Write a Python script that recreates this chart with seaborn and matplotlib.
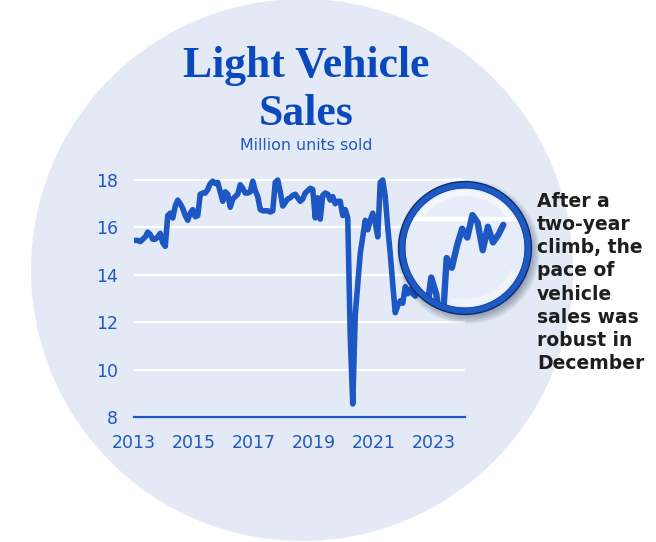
import matplotlib
matplotlib.use("Agg")
import matplotlib.pyplot as plt
import seaborn as sns
import numpy as np
import pandas as pd
from matplotlib.patches import Circle, Wedge

# ---------------- data (million units, SAAR, monthly) ----------------
years = list(range(2013, 2024))
sales_2013 = [15.45, 15.45, 15.4, 15.5, 15.6, 15.8, 15.7, 15.5, 15.5, 15.6, 15.75, 15.35]
sales_2014 = [15.2, 16.5, 16.6, 16.4, 16.9, 17.15, 17.0, 16.8, 16.5, 16.3, 16.6, 16.75]
sales_2015 = [16.45, 16.5, 17.4, 17.45, 17.45, 17.6, 17.85, 17.95, 17.85, 17.9, 17.5, 17.1]
sales_2016 = [17.5, 17.4, 16.85, 17.2, 17.3, 17.4, 17.8, 17.65, 17.45, 17.45, 17.5, 17.95]
sales_2017 = [17.55, 17.3, 16.75, 16.7, 16.7, 16.7, 16.65, 16.7, 17.9, 18.0, 17.5, 16.9]
sales_2018 = [17.05, 17.2, 17.25, 17.35, 17.4, 17.25, 17.1, 17.2, 17.45, 17.55, 17.65, 17.6]
sales_2019 = [16.4, 17.25, 16.35, 17.35, 17.45, 17.4, 17.15, 17.3, 17.0, 17.1, 17.1, 16.5]
sales_2020 = [16.75, 16.4, 11.4, 8.55, 12.3, 13.6, 14.9, 15.6, 16.3, 15.9, 16.3, 16.6]
sales_2021 = [16.2, 15.6, 17.9, 18.0, 17.3, 16.0, 14.9, 13.6, 12.4, 12.7, 12.9, 12.8]
sales_2022 = [13.5, 13.2, 13.4, 13.2, 13.1, 13.4, 13.5, 13.6, 14.0, 14.8, 14.45, 13.5]
sales_2023 = [15.2, 15.0, 15.45, 15.8, 15.62, 16.08, 15.93, 15.36, 15.84, 15.52, 15.67, 15.88]
monthly = [sales_2013, sales_2014, sales_2015, sales_2016, sales_2017, sales_2018,
           sales_2019, sales_2020, sales_2021, sales_2022, sales_2023]

y_ticks = [8, 10, 12, 14, 16, 18]
x_ticks = [2013, 2015, 2017, 2019, 2021, 2023]
title_lines = ["Light Vehicle", "Sales"]
subtitle = "Million units sold"
note = "After a\ntwo-year\nclimb, the\npace of\nvehicle\nsales was\nrobust in\nDecember"

rows = []
for yr, vals in zip(years, monthly):
    for m, v in enumerate(vals):
        rows.append({"t": yr + (m + 0.5) / 12.0, "sales": v})
df = pd.DataFrame(rows)

# ---------------- style ----------------
sns.set_style("white")
plt.rcParams['font.family'] = ['DejaVu Sans']

W, H = 656, 542
fig = plt.figure(figsize=(W / 100, H / 100), dpi=100)
fig.patch.set_facecolor('white')


def box(x0, y0, x1, y1):
    return [x0 / W, 1 - y1 / H, (x1 - x0) / W, (y1 - y0) / H]


def overlay(z):
    a = fig.add_axes([0, 0, 1, 1], zorder=z)
    a.set_xlim(0, W)
    a.set_ylim(H, 0)
    a.axis('off')
    a.patch.set_alpha(0)
    return a


LINE = '#1c57c4'
TXT = '#1f58c2'
TITLE = '#0a48bd'
BG = '#e3eaf6'

# background disc
ax_bg = overlay(0)
ax_bg.add_patch(Circle((302, 270), 271, fc=BG, ec='none'))

# ---------------- main chart ----------------
ax = fig.add_axes(box(134, 172.9, 465, 417), zorder=1)
ax.patch.set_alpha(0)
sns.lineplot(data=df, x='t', y='sales', ax=ax, color=LINE, lw=4.0,
             solid_capstyle='round', solid_joinstyle='round')
ax.set_xlim(2013, 2013 + 331 / 30)
ax.set_ylim(8, 8 + (417 - 172.9) / 23.7)
ax.set_yticks(y_ticks)
ax.set_xticks(x_ticks)
ax.set_xticklabels([str(v) for v in x_ticks])
ax.set_yticklabels([str(v) for v in y_ticks])
ax.set_xlabel('')
ax.set_ylabel('')
ax.set_axisbelow(True)
ax.yaxis.grid(True, color='white', lw=1.6)
ax.xaxis.grid(False)
for s in ['top', 'right', 'left']:
    ax.spines[s].set_visible(False)
ax.spines['bottom'].set_color(LINE)
ax.spines['bottom'].set_linewidth(1.6)
ax.tick_params(axis='x', length=3.6, width=1.3, color=LINE, labelcolor=TXT,
               labelsize=12.5, pad=9)
ax.tick_params(axis='y', length=0, labelcolor=TXT, labelsize=12.5, pad=11.5)

# ---------------- magnifier ----------------
CX, CY = 465, 248
ov1 = overlay(1.5)
for r in np.linspace(72, 64, 9):
    ov1.add_patch(Circle((CX + 3, CY + 4), r, fc='#0b1a3a', alpha=0.045, ec='none'))
ov1.add_patch(Circle((CX, CY), 61, fc='#e7edf8', ec='none'))
ov1.add_patch(Wedge((CX, CY), 58, 212, 328, width=6, fc='white', alpha=0.5, ec='none'))
ov1.add_patch(Wedge((CX, CY), 58, 25, 105, width=7, fc='white', alpha=0.35, ec='none'))

ax_lens = fig.add_axes(box(405, 188, 525, 308), zorder=2)
ax_lens.patch.set_alpha(0)
ax_lens.axhline(16, color='white', lw=3.2, zorder=0.5)
sns.lineplot(data=df, x='t', y='sales', ax=ax_lens, color=LINE, lw=4.6,
             solid_capstyle='round', solid_joinstyle='round')
ax_lens.set_xlim(2022.367, 2024.309)
ax_lens.set_ylim(14.176, 16.635)
ax_lens.axis('off')
clip = Circle((0.5, 0.5), 0.5, transform=ax_lens.transAxes)
for ln in ax_lens.lines:
    ln.set_clip_path(clip)

ov2 = overlay(3)
ov2.add_patch(Circle((CX, CY), 63.2, fill=False, ec='#1d5ac6', lw=4.9))
ov2.add_patch(Circle((CX, CY), 66.4, fill=False, ec='#0e2f6e', lw=1.0))
ov2.add_patch(Circle((CX, CY), 59.9, fill=False, ec='#17479f', lw=0.7))

# ---------------- texts ----------------
fig.text(306 / W, 1 - 77 / H, title_lines[0], ha='center', va='baseline',
         fontsize=31.5, family='Liberation Serif', weight='bold', color=TITLE)
fig.text(306 / W, 1 - 125 / H, title_lines[1], ha='center', va='baseline',
         fontsize=31.5, family='Liberation Serif', weight='bold', color=TITLE)
fig.text(306 / W, 1 - 150 / H, subtitle, ha='center', va='baseline',
         fontsize=11.4, color=TXT)
fig.text(537 / W, 1 - 192 / H, note, ha='left', va='top', fontsize=13.5,
         weight='bold', color='#1e1e1e', linespacing=1.276)

fig.savefig('out.png', dpi=100)
